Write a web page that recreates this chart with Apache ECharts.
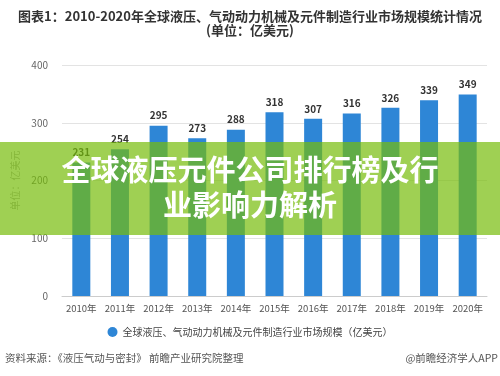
<!DOCTYPE html>
<html>
<head>
<meta charset="utf-8">
<script src="https://cdn.jsdelivr.net/npm/echarts@6/dist/echarts.min.js"></script>
<style>
  html, body { margin: 0; padding: 0; background: #fff; }
  #chart { width: 500px; height: 376px; }
</style>
</head>
<body>
<div id="chart"></div>
<script>
// 2010-2020 全球液压、气动动力机械及元件制造行业市场规模
const years = ["2010年", "2011年", "2012年", "2013年", "2014年", "2015年", "2016年", "2017年", "2018年", "2019年", "2020年"];
const marketSize = [231, 254, 295, 273, 288, 318, 307, 316, 326, 339, 349];
const seriesName = "全球液压、气动动力机械及元件制造行业市场规模（亿美元）";
const bannerLines = ["全球液压元件公司排行榜及行", "业影响力解析"];

const font = '"Noto Sans CJK SC", "Noto Sans", sans-serif';
const chart = echarts.init(document.getElementById("chart"), null, { renderer: "canvas" });

const bannerText = (text, top) => ({
  type: "text", z: 101, left: "center", top: top,
  style: { text: text, fill: "#fff", font: 'bold 29px "Noto Sans CJK SC"', shadowColor: "rgba(0,0,0,0.25)", shadowBlur: 2, shadowOffsetY: 1 },
});

chart.setOption({
  backgroundColor: "#fff",
  textStyle: { fontFamily: font },
  title: {
    text: "图表1：2010-2020年全球液压、气动动力机械及元件制造行业市场规模统计情况\n(单位：亿美元)",
    left: "center",
    top: 4,
    textStyle: { fontSize: 13, fontWeight: "bold", color: "#333", lineHeight: 14, fontFamily: font },
  },
  grid: { top: 65, left: 62, right: 13, bottom: 80 },
  legend: {
    bottom: 34,
    left: "center",
    icon: "circle",
    itemWidth: 10,
    itemHeight: 10,
    textStyle: { fontSize: 10, color: "#444" },
    data: [seriesName],
  },
  xAxis: {
    type: "category",
    data: years,
    axisLine: { lineStyle: { color: "#ccc" } },
    axisTick: { show: false },
    axisLabel: { color: "#555", fontSize: 9.5, margin: 8, interval: 0 },
  },
  yAxis: {
    type: "value",
    min: 0,
    max: 400,
    interval: 100,
    name: "单位：亿美元",
    nameLocation: "middle",
    nameGap: 27,
    nameTextStyle: { color: "#aaa", fontSize: 10 },
    axisLine: { show: false },
    axisTick: { show: false },
    axisLabel: { color: "#666", fontSize: 10, margin: 14 },
    splitLine: { lineStyle: { color: "#e3e3e3" } },
  },
  series: [{
    name: seriesName,
    type: "bar",
    data: marketSize,
    barWidth: 18,
    itemStyle: { color: "#2e86d6" },
    label: { show: true, position: "top", color: "#333", fontSize: 10, fontWeight: "bold" },
  }],
  graphic: [
    { type: "rect", z: 100, shape: { x: 0, y: 142, width: 500, height: 93 }, style: { fill: "rgba(118,188,10,0.7)" } },
    bannerText(bannerLines[0], 155),
    bannerText(bannerLines[1], 190),
    { type: "text", left: 5, top: 353, style: { text: "资料来源：《液压气动与密封》 前瞻产业研究院整理", fill: "#555", font: '10.5px "Noto Sans CJK SC"' } },
    { type: "text", right: 2, top: 353, style: { text: "@前瞻经济学人APP", fill: "#555", font: '10.5px "Noto Sans CJK SC"' } },
  ],
});
</script>
</body>
</html>
